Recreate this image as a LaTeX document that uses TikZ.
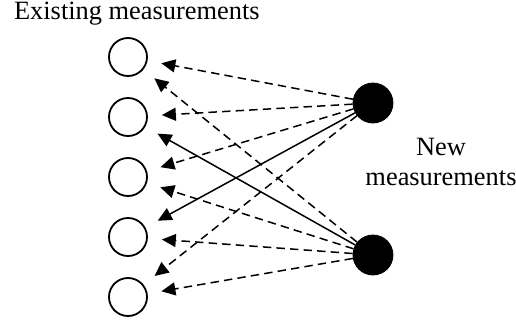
\documentclass[tikz,border=0pt]{standalone}
\usepackage{fontspec}
\setmainfont{Liberation Serif}
\usetikzlibrary{arrows.meta}
\usetikzlibrary{positioning}
\tikzset{
  msold/.style={
    draw, circle, minimum size=19pt, inner sep=0pt, line width=0.9pt},
  msnew/.style={
    draw, fill=black, circle, minimum size=20pt, inner sep=0pt},
  msarrow/.style={
    -{Triangle[length=7pt, width=6.5pt]}, line width=0.75pt,
    shorten >=7pt},
  msdash/.style={msarrow, dash pattern=on 4.2pt off 2.6pt},
  mslabel/.style={font=\fontsize{13.2}{15}\selectfont, align=center},
}

\begin{document}
\begin{tikzpicture}[x=0.5pt, y=-0.5pt]
\useasboundingbox (0, 0) rectangle (516, 322);

% Existing measurements, one column.
\foreach \i/\y in {1/57, 2/117, 3/177, 4/237, 5/297}
  \node[msold] (e\i) at (128, \y) {};
\node[mslabel, anchor=west] (oldlabel) at (7, 14) {Existing measurements};

% New measurements.
\node[msnew] (n1) at (373, 103) {};
\node[msnew] (n2) at (373, 255) {};
\node[mslabel] (newlabel) at (441, 162) {New\\measurements};

% Links from the new measurements.
\foreach \i in {1, 2, 3, 5}
  \draw[msdash] (n1) -- (e\i);
\draw[msarrow] (n1) -- (e4);
\foreach \i in {1, 3, 4, 5}
  \draw[msdash] (n2) -- (e\i);
\draw[msarrow] (n2) -- (e2);

\end{tikzpicture}
\end{document}
